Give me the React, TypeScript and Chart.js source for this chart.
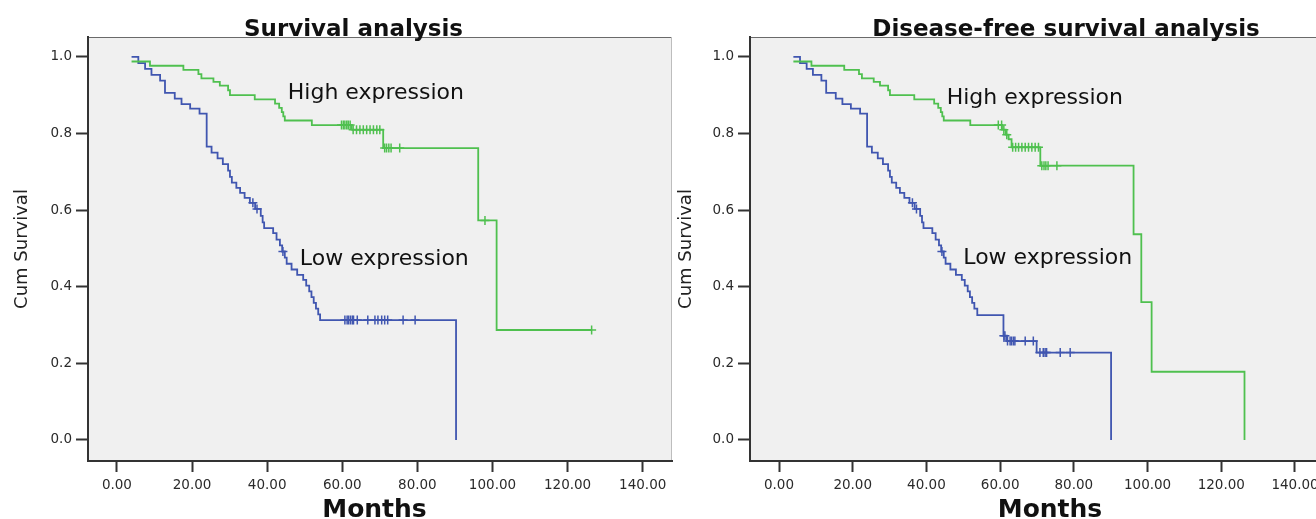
import React, { useEffect, useRef } from "react";
import { Chart, registerables } from "chart.js";

Chart.register(...registerables);

// ---------------- data ----------------
const xTickValues = [0, 20, 40, 60, 80, 100, 120, 140];
const yTickValues = [0, 0.2, 0.4, 0.6, 0.8, 1.0];

// Overall survival – low expression
const osLowTimes = [3.9, 5.7, 7.5, 9.2, 11.5, 12.8, 15.4, 17.2, 19.5, 22.0, 23.9, 25.2, 26.8, 28.2, 29.6, 30.1, 30.6, 31.8, 32.8, 34.0, 35.4, 36.8, 38.3, 38.8, 39.2, 41.6, 42.5, 43.4, 44.0, 44.7, 45.2, 46.5, 48.0, 49.6, 50.4, 51.2, 51.8, 52.4, 53.0, 53.6, 54.1, 90.3];
const osLowSurv = [1.0, 0.984, 0.969, 0.953, 0.938, 0.906, 0.891, 0.877, 0.865, 0.852, 0.766, 0.75, 0.735, 0.72, 0.703, 0.687, 0.672, 0.658, 0.645, 0.632, 0.619, 0.603, 0.585, 0.568, 0.553, 0.54, 0.523, 0.508, 0.492, 0.476, 0.46, 0.445, 0.431, 0.418, 0.403, 0.388, 0.373, 0.358, 0.343, 0.328, 0.313, 0];
const osLowCensor = [36.2, 37.3, 44.2, 60.7, 61.3, 61.7, 62.2, 62.7, 63.0, 64.0, 66.8, 68.7, 69.5, 70.5, 71.3, 72.1, 76.2, 79.4];

// Overall survival – high expression
const osHighTimes = [3.9, 8.8, 17.7, 21.7, 22.5, 25.7, 27.4, 29.6, 30.1, 36.7, 42.1, 43.2, 43.9, 44.3, 44.7, 51.9, 62.5, 70.9, 96.2, 101.1, 126.4];
const osHighSurv = [0.988, 0.977, 0.966, 0.955, 0.944, 0.935, 0.925, 0.913, 0.9, 0.889, 0.878, 0.867, 0.856, 0.845, 0.834, 0.822, 0.81, 0.762, 0.573, 0.287, 0.287];
const osHighCensor = [59.8, 60.3, 60.7, 61.2, 61.6, 62.1, 62.9, 63.8, 64.7, 65.6, 66.5, 67.4, 68.3, 69.2, 70.0, 71.3, 71.8, 72.4, 73.0, 75.3, 98.0, 126.4];

// Disease-free survival – low expression
const dfsLowTimes = [3.9, 5.7, 7.5, 9.2, 11.5, 12.8, 15.4, 17.2, 19.5, 22.0, 23.9, 25.2, 26.8, 28.2, 29.6, 30.1, 30.6, 31.8, 32.8, 34.0, 35.4, 36.8, 38.3, 38.8, 39.2, 41.6, 42.5, 43.4, 44.0, 44.7, 45.2, 46.5, 48.0, 49.6, 50.4, 51.2, 51.8, 52.4, 53.0, 53.8, 60.9, 61.8, 69.9, 90.1];
const dfsLowSurv = [1.0, 0.984, 0.969, 0.953, 0.938, 0.906, 0.891, 0.877, 0.865, 0.852, 0.766, 0.75, 0.735, 0.72, 0.703, 0.687, 0.672, 0.658, 0.645, 0.632, 0.619, 0.603, 0.585, 0.568, 0.553, 0.54, 0.523, 0.508, 0.492, 0.476, 0.46, 0.445, 0.431, 0.418, 0.403, 0.388, 0.373, 0.358, 0.343, 0.326, 0.272, 0.258, 0.228, 0];
const dfsLowCensor = [36.2, 37.3, 44.2, 61.0, 61.3, 62.0, 62.7, 63.1, 63.6, 64.0, 66.8, 69.0, 70.8, 71.7, 72.2, 72.6, 76.3, 79.0];

// Disease-free survival – high expression
const dfsHighTimes = [3.9, 8.8, 17.7, 21.7, 22.5, 25.7, 27.4, 29.6, 30.1, 36.7, 42.1, 43.2, 43.9, 44.3, 44.7, 51.9, 60.5, 61.5, 62.3, 63.1, 70.9, 96.2, 98.3, 101.1, 126.3];
const dfsHighSurv = [0.988, 0.977, 0.966, 0.955, 0.944, 0.935, 0.925, 0.913, 0.9, 0.889, 0.878, 0.867, 0.856, 0.845, 0.834, 0.822, 0.81, 0.797, 0.785, 0.764, 0.716, 0.537, 0.36, 0.178, 0];
const dfsHighCensor = [59.5, 60.4, 61.0, 61.8, 63.4, 64.2, 65.0, 65.9, 66.8, 67.7, 68.6, 69.5, 70.4, 71.3, 71.9, 72.4, 73.0, 75.4];

const BLUE = "#4056b0";
const GREEN = "#4fc04f";
const FONT = "'DejaVu Sans', 'Liberation Sans', Arial, sans-serif";

type Curve = { times: number[]; surv: number[]; censor: number[]; color: string };
type Label = { text: string; x: number; y: number };

type PanelProps = {
  left: number;
  width: number;
  padRight: number;
  xMin: number;
  xMax: number;
  title: string;
  titleX: number;
  monthsX: number;
  yTitleX: number;
  curves: Curve[];
  labels: Label[];
};

function stepValue(times: number[], surv: number[], t: number) {
  let v = surv[0];
  for (let i = 0; i < times.length; i++) {
    if (times[i] <= t + 1e-9) v = surv[i];
  }
  return v;
}

function Panel(p: PanelProps) {
  const ref = useRef<HTMLCanvasElement>(null);
  useEffect(() => {
    const canvas = ref.current!;
    const datasets: any[] = [];
    for (const c of p.curves) {
      datasets.push({
        type: "line",
        data: c.times.map((t, i) => ({ x: t, y: c.surv[i] })),
        borderColor: c.color,
        borderWidth: 1.8,
        stepped: "before",
        pointRadius: 0,
        fill: false,
        tension: 0,
      });
      datasets.push({
        type: "scatter",
        data: c.censor.map((t) => ({ x: t, y: stepValue(c.times, c.surv, t) })),
        pointStyle: "cross",
        pointRadius: 4.5,
        pointHoverRadius: 4.5,
        borderColor: c.color,
        backgroundColor: c.color,
        borderWidth: 1.5,
        showLine: false,
      });
    }

    const bgPlugin = {
      id: "bg",
      beforeDraw(chart: any) {
        const { ctx, chartArea } = chart;
        const { left, top, right, bottom } = chartArea;
        ctx.save();
        ctx.fillStyle = "#f0f0f0";
        ctx.fillRect(left, top, right - left, bottom - top);
        ctx.lineWidth = 1;
        ctx.strokeStyle = "#6a6a6a";
        ctx.beginPath();
        ctx.moveTo(left, top + 0.5);
        ctx.lineTo(right, top + 0.5);
        ctx.stroke();
        ctx.strokeStyle = "#bdbdbd";
        ctx.beginPath();
        ctx.moveTo(right - 0.5, top);
        ctx.lineTo(right - 0.5, bottom);
        ctx.stroke();
        ctx.restore();
      },
    };

    const textPlugin = {
      id: "texts",
      afterDraw(chart: any) {
        const { ctx } = chart;
        const xs = chart.scales.x;
        const ys = chart.scales.y;
        ctx.save();
        ctx.fillStyle = "#111";
        ctx.textAlign = "center";
        ctx.textBaseline = "alphabetic";
        ctx.font = `bold 23px ${FONT}`;
        ctx.fillText(p.title, p.titleX, 36);
        ctx.font = `bold 25px ${FONT}`;
        ctx.fillText("Months", p.monthsX, 517);
        ctx.font = `22px ${FONT}`;
        ctx.textAlign = "left";
        for (const l of p.labels) {
          ctx.fillText(l.text, xs.getPixelForValue(l.x), ys.getPixelForValue(l.y));
        }
        ctx.translate(p.yTitleX, 249);
        ctx.rotate(-Math.PI / 2);
        ctx.textAlign = "center";
        ctx.textBaseline = "middle";
        ctx.fillStyle = "#222";
        ctx.font = `18px ${FONT}`;
        ctx.fillText("Cum Survival", 0, 0);
        ctx.restore();
      },
    };

    const chart = new Chart(canvas, {
      type: "line",
      data: { datasets },
      options: {
        animation: false,
        responsive: false,
        devicePixelRatio: 1,
        events: [],
        layout: { padding: { left: 0, top: 37, right: p.padRight, bottom: 0 } },
        plugins: {
          legend: { display: false },
          tooltip: { enabled: false },
          title: { display: false },
        },
        scales: {
          x: {
            type: "linear",
            min: p.xMin,
            max: p.xMax,
            afterFit: (s: any) => {
              s.height = 58;
            },
            afterBuildTicks: (s: any) => {
              s.ticks = xTickValues.map((v) => ({ value: v }));
            },
            ticks: {
              callback: (v: any) => Number(v).toFixed(2),
              font: { family: FONT, size: 13.5 },
              color: "#2a2a2a",
              padding: 5,
              maxRotation: 0,
              autoSkip: false,
            },
            grid: {
              drawOnChartArea: false,
              drawTicks: true,
              tickLength: 11,
              tickColor: "#333",
              tickWidth: 2,
            },
            border: { display: true, color: "#333", width: 2 },
          },
          y: {
            type: "linear",
            min: -0.055,
            max: 1.052,
            afterFit: (s: any) => {
              s.width = 88;
            },
            afterBuildTicks: (s: any) => {
              s.ticks = yTickValues.map((v) => ({ value: v }));
            },
            ticks: {
              callback: (v: any) => Number(v).toFixed(1),
              font: { family: FONT, size: 13.5 },
              color: "#2a2a2a",
              padding: 4,
              autoSkip: false,
            },
            grid: {
              drawOnChartArea: false,
              drawTicks: true,
              tickLength: 12,
              tickColor: "#333",
              tickWidth: 2,
            },
            border: { display: true, color: "#333", width: 2 },
          },
        },
      } as any,
      plugins: [bgPlugin, textPlugin],
    });
    return () => chart.destroy();
  }, []);

  return (
    <canvas
      ref={ref}
      width={p.width}
      height={519}
      style={{ position: "absolute", left: p.left, top: 0, width: p.width, height: 519 }}
    />
  );
}

export default function App() {
  return (
    <div
      style={{
        position: "fixed",
        left: 0,
        top: 0,
        width: 1316,
        height: 519,
        overflow: "hidden",
        background: "#fff",
      }}
    >
      <Panel
        left={0}
        width={680}
        padRight={8}
        xMin={-7.7}
        xMax={147.8}
        title="Survival analysis"
        titleX={353.5}
        monthsX={374.5}
        yTitleX={22}
        curves={[
          { times: osHighTimes, surv: osHighSurv, censor: osHighCensor, color: GREEN },
          { times: osLowTimes, surv: osLowSurv, censor: osLowCensor, color: BLUE },
        ]}
        labels={[
          { text: "High expression", x: 45.5, y: 0.89 },
          { text: "Low expression", x: 48.7, y: 0.457 },
        ]}
      />
      <Panel
        left={662}
        width={680}
        padRight={18}
        xMin={-7.87}
        xMax={147.87}
        title="Disease-free survival analysis"
        titleX={404}
        monthsX={388}
        yTitleX={24}
        curves={[
          { times: dfsHighTimes, surv: dfsHighSurv, censor: dfsHighCensor, color: GREEN },
          { times: dfsLowTimes, surv: dfsLowSurv, censor: dfsLowCensor, color: BLUE },
        ]}
        labels={[
          { text: "High expression", x: 45.5, y: 0.877 },
          { text: "Low expression", x: 50.0, y: 0.46 },
        ]}
      />
    </div>
  );
}
